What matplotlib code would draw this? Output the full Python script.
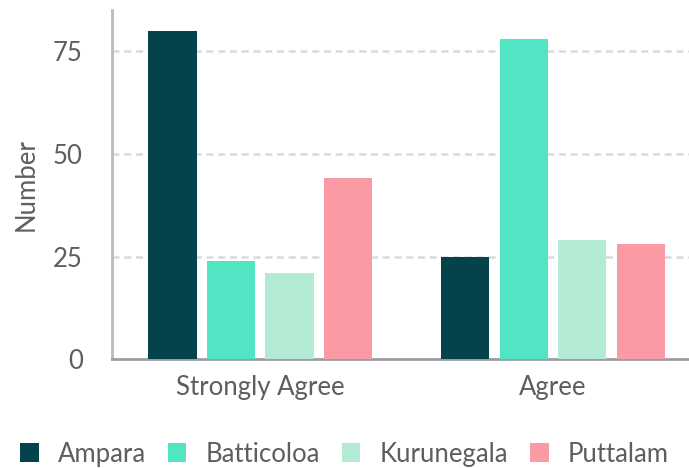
import matplotlib.pyplot as plt
import numpy as np

plt.rcParams['font.family'] = ['Lato', 'DejaVu Sans']

categories = ['Strongly Agree', 'Agree']
districts = ['Ampara', 'Batticoloa', 'Kurunegala', 'Puttalam']
ampara = [80, 25]
batticoloa = [24, 78]
kurunegala = [21, 29]
puttalam = [44, 28]
colors = ['#04434b', '#52e5c3', '#b3ead3', '#f99aa4']

series = [ampara, batticoloa, kurunegala, puttalam]
text_color = '#5e5e5e'
fs = 18.5

fig = plt.figure(figsize=(6.89, 4.68), dpi=100)
ax = fig.add_axes([112 / 689, 108.7 / 468, 1 - 112 / 689, (458 - 108.7) / 468])

x = np.arange(len(categories))
width = 0.165
offsets = [-0.3, -0.1, 0.1, 0.3]
for vals, off, c, name in zip(series, offsets, colors, districts):
    ax.bar(x + off, vals, width, color=c, label=name, zorder=3)

ax.set_xlim(-0.507, 1.465)
ax.set_ylim(0, 85)
ax.set_yticks([0, 25, 50, 75])
ax.set_xticks(x)
ax.set_xticklabels(categories)

for v in [25, 50, 75]:
    ax.axhline(v, color='#d8dadc', lw=1.8, ls=(0, (2.8, 1.9)), zorder=1)

for s in ['top', 'right']:
    ax.spines[s].set_visible(False)
ax.spines['left'].set_color('#b8bcc0')
ax.spines['left'].set_linewidth(2)
ax.spines['bottom'].set_color('#9a9ea3')
ax.spines['bottom'].set_linewidth(2)

ax.tick_params(axis='y', length=0, pad=21, labelsize=fs, labelcolor=text_color)
ax.tick_params(axis='x', length=0, pad=11, labelsize=fs, labelcolor=text_color)
ax.set_ylabel('Number', fontsize=fs, color=text_color, labelpad=10)

handles, labels = ax.get_legend_handles_labels()
fig.legend(handles, labels, loc='lower center', ncol=4, frameon=False,
           bbox_to_anchor=(0.5, -0.03), fontsize=fs, labelcolor=text_color,
           handlelength=0.72, handleheight=0.72, handletextpad=0.75,
           columnspacing=0.85, borderaxespad=0.2)

fig.savefig('out.png', dpi=100)
